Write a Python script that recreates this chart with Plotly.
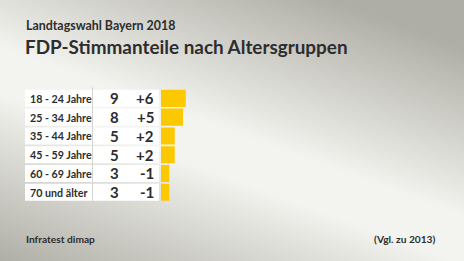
import base64
import plotly.graph_objects as go

# ---- data ----
age_groups = ["18 - 24 Jahre", "25 - 34 Jahre", "35 - 44 Jahre",
              "45 - 59 Jahre", "60 - 69 Jahre", "70 und älter"]
shares = [9, 8, 5, 5, 3, 3]
changes = ["+6", "+5", "+2", "+2", "-1", "-1"]
subtitle = "Landtagswahl Bayern 2018"
title = "FDP-Stimmanteile nach Altersgruppen"
source = "Infratest dimap"
note = "(Vgl. zu 2013)"

W, H = 464, 261
FONT = "Lato"
TXT = "#2d2d2d"
BAR = "#fcc900"


def px(x):
    return x / W


def py(y):
    return 1 - y / H


# gradient background as SVG
svg = f"""<svg xmlns='http://www.w3.org/2000/svg' width='{W}' height='{H}'>
<defs><linearGradient id='g' gradientUnits='userSpaceOnUse' x1='170' y1='324' x2='294' y2='-14'>
<stop offset='0' stop-color='#afaea6'/>
<stop offset='0.44' stop-color='#f3f3ef'/>
<stop offset='0.56' stop-color='#f3f3ef'/>
<stop offset='1' stop-color='#afaea6'/>
</linearGradient></defs>
<rect width='{W}' height='{H}' fill='url(#g)'/></svg>"""
bg_src = "data:image/svg+xml;base64," + base64.b64encode(svg.encode()).decode()

fig = go.Figure()

# white row boxes
fig.add_trace(go.Bar(
    y=age_groups, x=[1] * len(age_groups), orientation="h",
    xaxis="x2", yaxis="y", marker=dict(color="white", line=dict(width=0)),
    hoverinfo="skip", showlegend=False,
))
# share bars
fig.add_trace(go.Bar(
    y=age_groups, x=shares, orientation="h",
    xaxis="x", yaxis="y", marker=dict(color=BAR, line=dict(width=0)),
    showlegend=False,
))

annotations = []
for g, s, c in zip(age_groups, shares, changes):
    annotations.append(dict(x=px(27.5), y=g, xref="paper", yref="y", text=g,
                            xanchor="left", yanchor="middle", showarrow=False,
                            font=dict(family=FONT, size=10.7, color=TXT, weight="bold")))
    annotations.append(dict(x=px(114.5), y=g, xref="paper", yref="y", text=str(s),
                            xanchor="center", yanchor="middle", showarrow=False,
                            font=dict(family=FONT, size=15, color=TXT, weight="bold")))
    annotations.append(dict(x=px(155.5), y=g, xref="paper", yref="y", text=c,
                            xanchor="right", yanchor="middle", showarrow=False,
                            font=dict(family=FONT, size=15, color=TXT, weight="bold")))

annotations += [
    dict(x=px(24), y=py(25), xref="paper", yref="paper", text=subtitle,
         xanchor="left", yanchor="middle", showarrow=False,
         font=dict(family=FONT, size=12.4, color=TXT, weight="bold")),
    dict(x=px(23), y=py(47), xref="paper", yref="paper", text=title,
         xanchor="left", yanchor="middle", showarrow=False,
         font=dict(family=FONT, size=18.9, color=TXT, weight="bold")),
    dict(x=px(24), y=py(239), xref="paper", yref="paper", text=source,
         xanchor="left", yanchor="middle", showarrow=False,
         font=dict(family=FONT, size=10.2, color=TXT, weight="bold")),
    dict(x=px(438), y=py(239), xref="paper", yref="paper", text=note,
         xanchor="right", yanchor="middle", showarrow=False,
         font=dict(family=FONT, size=10.2, color=TXT, weight="bold")),
]

y_top, y_bot = 87.4, 203.2

fig.update_layout(
    width=W, height=H,
    margin=dict(l=0, r=0, t=0, b=0),
    paper_bgcolor="#d9d9d4",
    plot_bgcolor="rgba(0,0,0,0)",
    bargap=0.09,
    barmode="overlay",
    images=[dict(source=bg_src, xref="paper", yref="paper", x=0, y=1,
                 sizex=1, sizey=1, sizing="stretch", layer="below",
                 xanchor="left", yanchor="top")],
    xaxis=dict(domain=[px(161), px(161 + 27.5)], range=[0, 10],
               visible=False, fixedrange=True),
    xaxis2=dict(domain=[px(25), px(159)], range=[0, 1],
                visible=False, fixedrange=True, anchor="y"),
    yaxis=dict(domain=[py(y_bot), py(y_top)], autorange="reversed",
               categoryorder="array", categoryarray=age_groups,
               visible=False, fixedrange=True),
    shapes=[dict(type="line", xref="paper", yref="paper",
                 x0=px(92.5), x1=px(92.5), y0=py(y_bot), y1=py(y_top),
                 line=dict(color="#d4d4d0", width=1), layer="above")],
    annotations=annotations,
)

fig.write_html("out.html")
